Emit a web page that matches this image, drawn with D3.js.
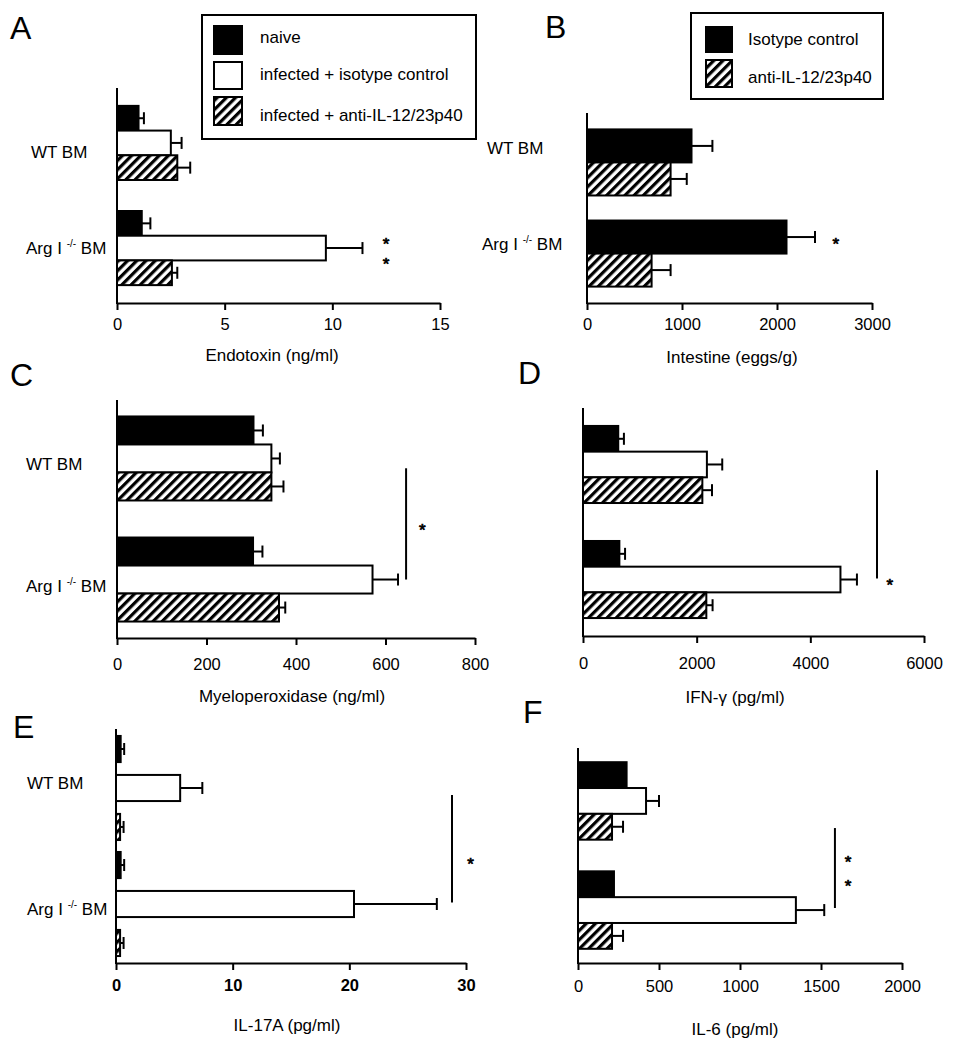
<!DOCTYPE html>
<html>
<head>
<meta charset="utf-8">
<script src="https://cdn.jsdelivr.net/npm/d3@7"></script>
<style>
  body { margin: 0; background: #fff; }
  svg { display: block; font-family: "Liberation Sans", Arial, Helvetica, sans-serif; }
</style>
</head>
<body>
<svg id="fig" width="961" height="1050"></svg>
<script>
var groups = ["WT BM", "Arg I -/- BM"]
var seriesThree = ["naive", "infected + isotype control", "infected + anti-IL-12/23p40"]
var seriesTwo = ["Isotype control", "anti-IL-12/23p40"]

// means and SEM, rows = groups, columns = series
var endotoxin = [[1.0, 2.5, 2.8], [1.15, 9.7, 2.55]]
var endotoxinErr = [[0.25, 0.5, 0.6], [0.4, 1.7, 0.25]]
var eggs = [[1100, 880], [2100, 680]]
var eggsErr = [[220, 170], [300, 200]]
var mpo = [[305, 345, 345], [304, 571, 362]]
var mpoErr = [[21, 19, 27], [21, 57, 14]]
var ifng = [[620, 2180, 2100], [640, 4530, 2170]]
var ifngErr = [[100, 270, 170], [100, 290, 110]]
var il17 = [[0.4, 5.5, 0.35], [0.4, 20.4, 0.35]]
var il17Err = [[0.3, 1.9, 0.3], [0.3, 7.1, 0.3]]
var il6 = [[300, 420, 210], [222, 1345, 210]]
var il6Err = [[0, 80, 68], [0, 175, 68]]

var ticksA = [0, 5, 10, 15]
var ticksB = [0, 1000, 2000, 3000]
var ticksC = [0, 200, 400, 600, 800]
var ticksD = [0, 2000, 4000, 6000]
var ticksE = [0, 10, 20, 30]
var ticksF = [0, 500, 1000, 1500, 2000]

var fills3 = ["#000", "#fff", "url(#hatch)"]
var fills2 = ["#000", "url(#hatch)"]

var panels = [
  {letter: "A", lp: [10, 39], xr: [117, 440], yr: [88, 303], max: 15, ticks: ticksA, v: endotoxin, e: endotoxinErr, fills: fills3,
   pad: [0.295, 0.17], inner: 0, title: "Endotoxin (ng/ml)", tp: [272, 361], tickPad: 8,
   labels: [31, 26], labelDy: [9, 0], sig: null, stars: {x: 12.5, at: [[1, 1, 0.17], [1, 1, 1.0]]}},
  {letter: "B", lp: [545, 38], xr: [587, 872], yr: [113, 303], max: 3000, ticks: ticksB, v: eggs, e: eggsErr, fills: fills2,
   pad: [0.275, 0.18], inner: 0, title: "Intestine (eggs/g)", tp: [732, 363], tickPad: 8,
   labels: [487, 482], labelDy: [-14, -10], sig: null, stars: {x: 2620, at: [[1, 0, 0.6]]}},
  {letter: "C", lp: [10, 386], xr: [117, 475], yr: [400, 638], max: 800, ticks: ticksC, v: mpo, e: mpoErr, fills: fills3,
   pad: [0.306, 0.136], inner: 0, title: "Myeloperoxidase (ng/ml)", tp: [292, 702], tickPad: 13,
   labels: [26, 26], labelDy: [6, 6], sig: {x: 646, from: [0, 1, 0.85], to: [1, 1, 0.5]}, stars: {x: 682, at: [[1, 0, -0.4]]}},
  {letter: "D", lp: [518, 384], xr: [583, 924], yr: [408, 636], max: 6000, ticks: ticksD, v: ifng, e: ifngErr, fills: fills3,
   pad: [0.33, 0.156], inner: 0, title: "IFN-\u03b3 (pg/ml)", tp: [735, 703], tickPad: 14,
   labels: null, sig: {x: 5173, from: [0, 1, 0.72], to: [1, 1, 0.46]}, stars: {x: 5400, at: [[1, 1, 0.54]]}},
  {letter: "E", lp: [13, 738], xr: [116, 466], yr: [729, 963], max: 30, ticks: ticksE, v: il17, e: il17Err, fills: fills3,
   pad: [0.103, 0.06], inner: 0.33, title: "IL-17A (pg/ml)", tp: [287, 1031], tickPad: 9, boldTicks: true,
   labels: [27, 27], labelDy: [-5, 5], sig: {x: 28.8, from: [0, 1, 0.77], to: [1, 1, 0.44]}, stars: {x: 30.4, at: [[1, 0, 0.3]]}},
  {letter: "F", lp: [523, 723], xr: [578, 902], yr: [748, 963], max: 2000, ticks: ticksF, v: il6, e: il6Err, fills: fills3,
   pad: [0.29, 0.13], inner: 0, title: "IL-6 (pg/ml)", tp: [735, 1035], tickPad: 10,
   labels: null, sig: {x: 1586, from: [0, 2, 0.55], to: [1, 1, 0.42]}, stars: {x: 1667, at: [[1, 0, -0.5], [1, 0, 0.4]]}}
]

var svg = d3.select("#fig")

var defs = svg.append("defs")
var pat = defs.append("pattern")
    .attr("id", "hatch")
    .attr("patternUnits", "userSpaceOnUse")
    .attr("width", 6.5)
    .attr("height", 6.5)
    .attr("patternTransform", "rotate(45)")
pat.append("rect").attr("width", 6.5).attr("height", 6.5).attr("fill", "#fff")
pat.append("line")
    .attr("x1", 1.6).attr("x2", 1.6)
    .attr("y1", 0).attr("y2", 6.5)
    .attr("stroke", "#000")
    .attr("stroke-width", 3.2)

panels.forEach(function(p) {
  var g = svg.append("g")
  var nSeries = p.v[0].length

  var x = d3.scaleLinear().domain([0, p.max]).range(p.xr)
  var y0 = d3.scaleBand()
      .domain(d3.range(groups.length))
      .range(p.yr)
      .paddingInner(p.pad[0])
      .paddingOuter(p.pad[1])
  var y1 = d3.scaleBand()
      .domain(d3.range(nSeries))
      .range([0, y0.bandwidth()])
      .paddingInner(p.inner)
      .paddingOuter(0)

  function yAt(a) {
    return y0(a[0]) + y1(a[1]) + y1.bandwidth() * a[2]
  }

  var rows = []
  p.v.forEach(function(r, gi) {
    r.forEach(function(val, si) {
      rows.push({g: gi, s: si, v: val, e: p.e[gi][si]})
    })
  })

  // error bars first, bars on top
  var err = g.append("g")
      .attr("stroke", "#000")
      .attr("stroke-width", 2)
    .selectAll("g")
    .data(rows.filter(d => d.e > 0))
    .join("g")
  err.append("line")
      .attr("x1", d => x(d.v))
      .attr("x2", d => x(d.v + d.e))
      .attr("y1", d => y0(d.g) + y1(d.s) + y1.bandwidth() / 2)
      .attr("y2", d => y0(d.g) + y1(d.s) + y1.bandwidth() / 2)
  err.append("line")
      .attr("x1", d => x(d.v + d.e))
      .attr("x2", d => x(d.v + d.e))
      .attr("y1", d => y0(d.g) + y1(d.s) + y1.bandwidth() / 2 - 6)
      .attr("y2", d => y0(d.g) + y1(d.s) + y1.bandwidth() / 2 + 6)

  g.append("g")
    .selectAll("rect")
    .data(rows)
    .join("rect")
      .attr("x", x(0))
      .attr("y", d => y0(d.g) + y1(d.s))
      .attr("width", d => x(d.v) - x(0))
      .attr("height", y1.bandwidth())
      .attr("fill", d => p.fills[d.s])
      .attr("stroke", "#000")
      .attr("stroke-width", 2)

  // axes
  var axis = g.append("g")
      .attr("transform", `translate(0,${p.yr[1]})`)
      .call(d3.axisBottom(x).tickValues(p.ticks).tickFormat(d3.format("d"))
        .tickSize(7).tickSizeOuter(0).tickPadding(p.tickPad))
  axis.attr("font-size", 16.5)
      .attr("font-family", null)
      .attr("font-weight", p.boldTicks ? "bold" : null)
  axis.selectAll("path, line").attr("stroke", "#000").attr("stroke-width", 2)
  axis.selectAll("text").attr("fill", "#000")

  g.append("line")
      .attr("x1", x(0)).attr("x2", x(0))
      .attr("y1", p.yr[0]).attr("y2", p.yr[1] + 1)
      .attr("stroke", "#000")
      .attr("stroke-width", 2)

  g.append("text")
      .attr("x", p.tp[0])
      .attr("y", p.tp[1])
      .attr("text-anchor", "middle")
      .attr("font-size", 17)
      .text(p.title)

  g.append("text")
      .attr("x", p.lp[0])
      .attr("y", p.lp[1])
      .attr("font-size", 32)
      .text(p.letter)

  if (p.labels) {
    groups.forEach(function(name, gi) {
      var t = g.append("text")
          .attr("x", p.labels[gi])
          .attr("y", y0(gi) + y0.bandwidth() / 2 + 6 + p.labelDy[gi])
          .attr("font-size", 17)
      var parts = name.split("-/-")
      if (parts.length == 1) {
        t.text(name)
      } else {
        t.append("tspan").text(parts[0])
        t.append("tspan").attr("font-size", 10).attr("dy", -7).text("-/-")
        t.append("tspan").attr("dy", 7).text(parts[1])
      }
    })
  }

  if (p.sig) {
    g.append("line")
        .attr("x1", x(p.sig.x)).attr("x2", x(p.sig.x))
        .attr("y1", yAt(p.sig.from)).attr("y2", yAt(p.sig.to))
        .attr("stroke", "#000")
        .attr("stroke-width", 2)
  }

  g.selectAll("text.star")
    .data(p.stars.at)
    .join("text")
      .attr("class", "star")
      .attr("x", x(p.stars.x))
      .attr("y", d => yAt(d) + 10)
      .attr("text-anchor", "middle")
      .attr("font-size", 17)
      .attr("stroke", "#000")
      .attr("stroke-width", 0.7)
      .text("*")
})

// legends
function legend(names, fills, box, sx, sw, tops, hs, tx, base) {
  var lg = svg.append("g")
  lg.append("rect")
      .attr("x", box[0]).attr("y", box[1])
      .attr("width", box[2]).attr("height", box[3])
      .attr("fill", "#fff")
      .attr("stroke", "#000")
      .attr("stroke-width", 2)
  lg.selectAll("rect.sw")
    .data(names)
    .join("rect")
      .attr("class", "sw")
      .attr("x", sx)
      .attr("y", (d, i) => tops[i])
      .attr("width", sw)
      .attr("height", (d, i) => hs[i])
      .attr("fill", (d, i) => fills[i])
      .attr("stroke", "#000")
      .attr("stroke-width", 2)
  lg.selectAll("text")
    .data(names)
    .join("text")
      .attr("x", tx)
      .attr("y", (d, i) => base[i])
      .attr("font-size", 17)
      .text(d => d)
}

legend(seriesThree, fills3, [202, 15, 274, 124], 214, 28, [26, 62, 97], [28, 27, 28], 260, [43, 80, 121])
legend(seriesTwo, fills2, [691, 13, 192, 86], 706, 26, [27, 60], [25, 27], 748, [45, 83])
</script>
</body>
</html>
